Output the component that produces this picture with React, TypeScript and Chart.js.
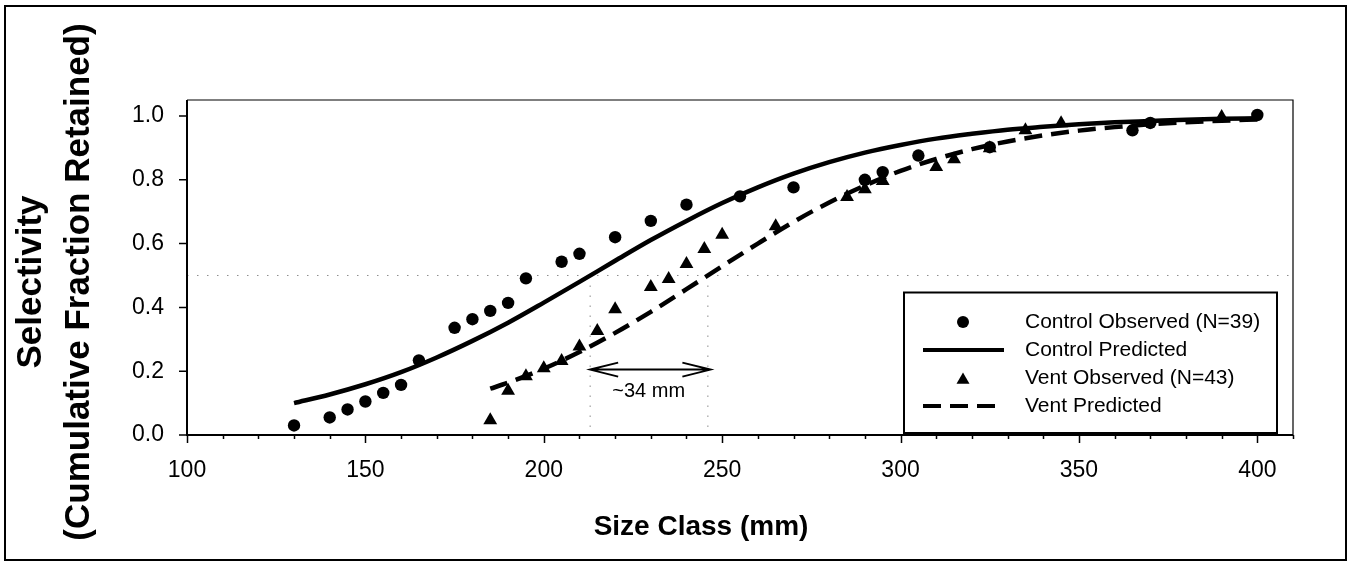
import React, { useEffect, useRef } from 'react';
import { Chart, registerables } from 'chart.js';

Chart.register(...registerables);

// ---- data ----
const controlSizes = [130, 140, 145, 150, 155, 160, 165, 175, 180, 185, 190, 195, 205, 210, 220, 230, 240, 255, 270, 290, 295, 305, 325, 365, 370, 400];
const controlObserved = [0.03, 0.055, 0.08, 0.105, 0.132, 0.157, 0.234, 0.336, 0.363, 0.389, 0.414, 0.491, 0.543, 0.568, 0.62, 0.671, 0.722, 0.748, 0.776, 0.8, 0.824, 0.876, 0.902, 0.955, 0.978, 1.003];

const ventSizes = [185, 190, 195, 200, 205, 210, 215, 220, 230, 235, 240, 245, 250, 265, 285, 290, 295, 310, 315, 325, 335, 345, 390];
const ventObserved = [0.046, 0.139, 0.184, 0.209, 0.232, 0.277, 0.326, 0.394, 0.464, 0.489, 0.536, 0.583, 0.628, 0.654, 0.746, 0.77, 0.796, 0.84, 0.864, 0.899, 0.955, 0.977, 0.997];

const controlPredSizes = [130, 140, 150, 160, 170, 180, 190, 200, 210, 220, 230, 240, 250, 260, 270, 280, 290, 300, 310, 320, 330, 340, 350, 360, 370, 380, 390, 400];
const controlPredicted = [0.1, 0.127, 0.159, 0.197, 0.243, 0.295, 0.352, 0.415, 0.48, 0.546, 0.611, 0.671, 0.727, 0.776, 0.819, 0.855, 0.885, 0.909, 0.929, 0.944, 0.957, 0.966, 0.974, 0.98, 0.984, 0.988, 0.991, 0.993];

const ventPredSizes = [185, 190, 200, 210, 220, 230, 240, 250, 260, 270, 280, 290, 300, 310, 320, 330, 340, 350, 360, 370, 380, 390, 400];
const ventPredicted = [0.145, 0.164, 0.208, 0.26, 0.32, 0.386, 0.457, 0.529, 0.6, 0.668, 0.729, 0.782, 0.828, 0.865, 0.896, 0.92, 0.939, 0.954, 0.965, 0.974, 0.98, 0.985, 0.989];

const seriesNames = ['Control Observed (N=39)', 'Control Predicted', 'Vent Observed (N=43)', 'Vent Predicted'];

const halfLevel = 0.5;
const controlL50 = 213;
const ventL50 = 246;
const arrowLevel = 0.205;
const arrowLabel = '~34 mm';
const arrowLabelPos = { x: 229.4, y: 0.135 };

const xTitle = 'Size Class (mm)';
const yTitleLines = ['Selectivity', '(Cumulative Fraction Retained)'];

const FONT = '"Liberation Sans", Arial, Helvetica, sans-serif';
const DASH = [18, 9];

function drawMarker(ctx: CanvasRenderingContext2D, style: string, x: number, y: number, r: number) {
  ctx.beginPath();
  if (style === 'circle') {
    ctx.arc(x, y, r, 0, Math.PI * 2);
  } else {
    let rad = 0;
    ctx.moveTo(x + Math.sin(rad) * r, y - Math.cos(rad) * r);
    rad += (2 * Math.PI) / 3;
    ctx.lineTo(x + Math.sin(rad) * r, y - Math.cos(rad) * r);
    rad += (2 * Math.PI) / 3;
    ctx.lineTo(x + Math.sin(rad) * r, y - Math.cos(rad) * r);
    ctx.closePath();
  }
  ctx.fill();
}

const decorPlugin = {
  id: 'decor',
  beforeDatasetsDraw(chart: any) {
    const { ctx, chartArea: a, scales } = chart;
    const xs = scales.x;
    const ys = scales.y;
    ctx.save();
    ctx.strokeStyle = '#8c8c8c';
    ctx.lineWidth = 1;
    ctx.setLineDash([1.5, 8.5]);
    const y50 = ys.getPixelForValue(halfLevel);
    ctx.beginPath();
    ctx.moveTo(a.left, y50);
    ctx.lineTo(a.right, y50);
    for (const v of [controlL50, ventL50]) {
      const px = xs.getPixelForValue(v);
      ctx.moveTo(px, y50);
      ctx.lineTo(px, a.bottom);
    }
    ctx.stroke();
    ctx.restore();
  },
  afterDraw(chart: any) {
    const { ctx, chartArea: a, scales, width, height } = chart;
    const xs = scales.x;
    const ys = scales.y;
    ctx.save();

    // arrow
    const ay = ys.getPixelForValue(arrowLevel);
    const ax1 = xs.getPixelForValue(controlL50);
    const ax2 = xs.getPixelForValue(ventL50 + 0.7);
    ctx.strokeStyle = '#000';
    ctx.lineWidth = 2;
    ctx.beginPath();
    ctx.moveTo(ax1, ay);
    ctx.lineTo(ax2, ay);
    ctx.moveTo(ax1 + 28, ay - 7);
    ctx.lineTo(ax1, ay);
    ctx.lineTo(ax1 + 28, ay + 7);
    ctx.moveTo(ax2 - 28, ay - 7);
    ctx.lineTo(ax2, ay);
    ctx.lineTo(ax2 - 28, ay + 7);
    ctx.stroke();
    ctx.fillStyle = '#000';
    ctx.font = `20px ${FONT}`;
    ctx.textAlign = 'center';
    ctx.textBaseline = 'middle';
    ctx.fillText(arrowLabel, xs.getPixelForValue(arrowLabelPos.x), ys.getPixelForValue(arrowLabelPos.y));

    // frame
    ctx.lineWidth = 1.2;
    ctx.beginPath();
    ctx.moveTo(a.left, a.top);
    ctx.lineTo(a.right, a.top);
    ctx.lineTo(a.right, a.bottom);
    ctx.stroke();
    ctx.lineWidth = 2;
    ctx.beginPath();
    ctx.moveTo(a.left, a.top);
    ctx.lineTo(a.left, a.bottom);
    ctx.lineTo(a.right, a.bottom);
    ctx.stroke();

    // tick marks
    ctx.lineWidth = 1.5;
    ctx.beginPath();
    for (const t of xs.ticks) {
      const px = Math.round(xs.getPixelForValue(t.value)) + 0.5;
      const len = Math.round(t.value) % 50 === 0 ? 8 : 4;
      ctx.moveTo(px, a.bottom);
      ctx.lineTo(px, a.bottom + len);
    }
    for (const t of ys.ticks) {
      const py = ys.getPixelForValue(t.value);
      ctx.moveTo(a.left - 8, py);
      ctx.lineTo(a.left, py);
    }
    ctx.stroke();

    // legend
    const lx1 = a.right - 389;
    const lx2 = a.right - 16;
    const ly1 = 292.5;
    const ly2 = a.bottom - 2;
    ctx.fillStyle = '#fff';
    ctx.fillRect(lx1, ly1, lx2 - lx1, ly2 - ly1);
    ctx.lineWidth = 2;
    ctx.strokeStyle = '#000';
    ctx.strokeRect(lx1, ly1, lx2 - lx1, ly2 - ly1);
    const rows = [322, 350, 378, 406];
    const symX = lx1 + 59;
    const lineX1 = lx1 + 19;
    const lineX2 = lx1 + 100;
    ctx.fillStyle = '#000';
    drawMarker(ctx, 'circle', symX, rows[0], 6);
    drawMarker(ctx, 'triangle', symX, rows[2] + 2, 7.5);
    ctx.lineWidth = 4;
    ctx.beginPath();
    ctx.moveTo(lineX1, rows[1]);
    ctx.lineTo(lineX2, rows[1]);
    ctx.stroke();
    ctx.setLineDash(DASH);
    ctx.beginPath();
    ctx.moveTo(lineX1, rows[3]);
    ctx.lineTo(lineX2 - 4, rows[3]);
    ctx.stroke();
    ctx.setLineDash([]);
    ctx.font = `21px ${FONT}`;
    ctx.textAlign = 'left';
    ctx.textBaseline = 'middle';
    seriesNames.forEach((n, i) => ctx.fillText(n, lx1 + 121, rows[i]));

    // axis titles
    ctx.font = `bold 28px ${FONT}`;
    ctx.textAlign = 'center';
    ctx.textBaseline = 'alphabetic';
    ctx.fillText(xTitle, 701, 535);

    ctx.font = `bold 35px ${FONT}`;
    const baselines = [41, 89];
    yTitleLines.forEach((t, i) => {
      ctx.save();
      ctx.translate(baselines[i], 282);
      ctx.rotate(-Math.PI / 2);
      ctx.fillText(t, 0, 0);
      ctx.restore();
    });

    // outer border
    ctx.lineWidth = 2;
    ctx.strokeRect(5, 6, width - 10, height - 9);
    ctx.restore();
  },
};

export default function App() {
  const ref = useRef<HTMLCanvasElement | null>(null);

  useEffect(() => {
    document.body.style.margin = '0';
    const canvas = ref.current;
    if (!canvas) return;
    const toXY = (xs: number[], ys: number[]) => xs.map((x, i) => ({ x, y: ys[i] }));
    const chart = new Chart(canvas, {
      type: 'scatter',
      data: {
        datasets: [
          {
            label: seriesNames[0],
            data: toXY(controlSizes, controlObserved),
            pointStyle: 'circle',
            pointRadius: 6.2,
            pointBackgroundColor: '#000',
            pointBorderWidth: 0,
            order: 1,
          },
          {
            label: seriesNames[2],
            data: toXY(ventSizes, ventObserved),
            pointStyle: 'triangle',
            pointRadius: 8,
            pointBackgroundColor: '#000',
            pointBorderWidth: 0,
            order: 1,
          },
          {
            label: seriesNames[1],
            data: toXY(controlPredSizes, controlPredicted),
            showLine: true,
            pointRadius: 0,
            borderColor: '#000',
            borderWidth: 4.5,
            cubicInterpolationMode: 'monotone',
            order: 2,
          },
          {
            label: seriesNames[3],
            data: toXY(ventPredSizes, ventPredicted),
            showLine: true,
            pointRadius: 0,
            borderColor: '#000',
            borderWidth: 4.5,
            borderDash: DASH,
            cubicInterpolationMode: 'monotone',
            order: 2,
          },
        ],
      } as any,
      options: {
        responsive: false,
        animation: false,
        events: [],
        layout: { padding: { left: 0, right: 58, top: 100, bottom: 0 } },
        plugins: { legend: { display: false }, tooltip: { enabled: false } },
        scales: {
          x: {
            type: 'linear',
            min: 100,
            max: 410,
            afterFit: (s: any) => {
              s.height = 128;
            },
            grid: { display: true, drawOnChartArea: false, drawTicks: true, tickLength: 8, color: 'rgba(0,0,0,0)' },
            border: { display: false },
            ticks: {
              stepSize: 10,
              autoSkip: false,
              maxRotation: 0,
              includeBounds: false,
              padding: 14,
              color: '#000',
              font: { family: FONT, size: 23 },
              callback: (v: any) => (Math.round(v) % 50 === 0 ? String(Math.round(v)) : ''),
            },
          },
          y: {
            type: 'linear',
            min: 0,
            max: 1.05,
            afterFit: (s: any) => {
              s.width = 187;
            },
            grid: { display: true, drawOnChartArea: false, drawTicks: true, tickLength: 8, color: 'rgba(0,0,0,0)' },
            border: { display: false },
            ticks: {
              stepSize: 0.2,
              includeBounds: false,
              padding: 15,
              color: '#000',
              font: { family: FONT, size: 23 },
              callback: (v: any) => Number(v).toFixed(1),
            },
          },
        },
      } as any,
      plugins: [decorPlugin],
    });
    return () => chart.destroy();
  }, []);

  return (
    <div style={{ width: 1351, height: 563, background: '#fff' }}>
      <canvas ref={ref} width={1351} height={563} style={{ display: 'block' }} />
    </div>
  );
}
